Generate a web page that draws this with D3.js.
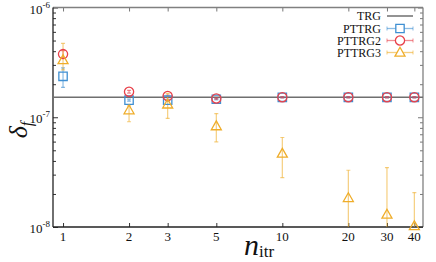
<!DOCTYPE html>
<html><head><meta charset="utf-8">
<script src="https://cdn.jsdelivr.net/npm/d3@7"></script>
<style>body{margin:0;background:#fff}svg{display:block}</style>
</head><body><svg id="c" width="436" height="262"></svg>
<script>
const nVals = [1, 2, 3, 5, 10, 20, 30, 40];
const xTickLabels = ["1", "2", "3", "5", "10", "20", "30", "40"];
const yTickExps = [-6, -7, -8];
const trgValue = 1.52e-7;
const pttrg   = [2.36e-7, 1.43e-7, 1.43e-7, 1.46e-7, 1.52e-7, 1.52e-7, 1.52e-7, 1.52e-7];
const pttrgLo = [1.87e-7, 1.40e-7, 1.40e-7, 1.44e-7, 1.50e-7, 1.50e-7, 1.50e-7, 1.50e-7];
const pttrgHi = [2.82e-7, 1.46e-7, 1.46e-7, 1.48e-7, 1.54e-7, 1.54e-7, 1.54e-7, 1.54e-7];
const pttrg2   = [3.76e-7, 1.71e-7, 1.56e-7, 1.48e-7, 1.52e-7, 1.52e-7, 1.52e-7, 1.52e-7];
const pttrg2Lo = [3.50e-7, 1.66e-7, 1.53e-7, 1.46e-7, 1.50e-7, 1.50e-7, 1.50e-7, 1.50e-7];
const pttrg2Hi = [4.05e-7, 1.76e-7, 1.59e-7, 1.50e-7, 1.54e-7, 1.54e-7, 1.54e-7, 1.54e-7];
const pttrg3   = [3.32e-7, 1.16e-7, 1.31e-7, 8.3e-8, 4.67e-8, 1.84e-8, 1.30e-8, 1.02e-8];
const pttrg3Lo = [2.70e-7, 9.1e-8, 9.75e-8, 5.97e-8, 2.82e-8, 5e-9, 5e-9, 5e-9];
const pttrg3Hi = [4.71e-7, 1.27e-7, 1.65e-7, 1.08e-7, 6.54e-8, 3.29e-8, 3.48e-8, 2.06e-8];
const seriesNames = ["TRG", "PTTRG", "PTTRG2", "PTTRG3"];

const FONT = "Liberation Serif";
const svg = d3.select("#c");
const L = 53, R = 423, T = 7.5, B = 227;
const x = d3.scaleLog().domain([0.9, 43.8]).range([L, R]);
const y = d3.scaleLog().domain([1e-8, 1e-6]).range([B, T]);

svg.append("defs").append("clipPath").attr("id","clip")
  .append("rect").attr("x",L).attr("y",T).attr("width",R-L).attr("height",B-T);

const colors = {PTTRG:"#3f8fd2", PTTRG2:"#e8414a", PTTRG3:"#efad2a"};

const minor = [];
for (let e=-8;e<-6;e++) for (let m=2;m<=9;m++) minor.push(m*Math.pow(10,e));
function tickGroup(axis, tx, ty, color){
  const g = svg.append("g").attr("transform",`translate(${tx},${ty})`).call(axis);
  g.select(".domain").remove(); g.selectAll("line").attr("stroke",color);
  g.selectAll("text").remove();
}
const majors = yTickExps.map(e=>Math.pow(10,e));
tickGroup(d3.axisRight(y).tickValues(minor).tickSize(3).tickFormat(""), L, 0, "#333");
tickGroup(d3.axisRight(y).tickValues(majors).tickSize(5).tickFormat(""), L, 0, "#333");
tickGroup(d3.axisLeft(y).tickValues(minor).tickSize(3).tickFormat(""), R, 0, "#777");
tickGroup(d3.axisLeft(y).tickValues(majors).tickSize(5).tickFormat(""), R, 0, "#777");
tickGroup(d3.axisTop(x).tickValues(nVals).tickSize(4).tickFormat(""), 0, B, "#333");
tickGroup(d3.axisBottom(x).tickValues(nVals).tickSize(4).tickFormat(""), 0, T, "#777");

// borders
svg.append("line").attr("x1",L).attr("x2",R).attr("y1",T).attr("y2",T).attr("stroke","#808080").attr("stroke-width",1.6);
svg.append("line").attr("x1",R).attr("x2",R).attr("y1",T).attr("y2",B).attr("stroke","#808080").attr("stroke-width",1.3);
svg.append("line").attr("x1",L).attr("x2",L).attr("y1",T).attr("y2",B).attr("stroke","#222").attr("stroke-width",1.3);
svg.append("line").attr("x1",L).attr("x2",R).attr("y1",B).attr("y2",B).attr("stroke","#222").attr("stroke-width",1.3);

// x tick labels
svg.append("g").selectAll("text").data(nVals).join("text")
  .attr("x",d=>x(d)).attr("y",B+14).attr("text-anchor","middle")
  .attr("font-family",FONT).attr("font-size",13).attr("fill","#111")
  .text((d,i)=>xTickLabels[i]);
// y tick labels
yTickExps.forEach(e=>{
  const yy = y(Math.pow(10,e));
  const t = svg.append("text").attr("x",L-3).attr("y",yy+6).attr("text-anchor","end")
    .attr("font-family",FONT).attr("font-size",13).attr("fill","#111");
  t.append("tspan").text("10");
  t.append("tspan").attr("font-size",9).attr("dy",-6).text(String(e));
});

// TRG line
svg.append("line").attr("x1",L).attr("x2",R).attr("y1",y(trgValue)).attr("y2",y(trgValue))
  .attr("stroke","#6f6f6f").attr("stroke-width",1.5);

function errorBars(vals, lo, hi, color){
  const g = svg.append("g").attr("clip-path","url(#clip)").attr("stroke",color).attr("stroke-opacity",0.6).attr("stroke-width",1.2);
  vals.forEach((v,i)=>{
    const xx = x(nVals[i]);
    g.append("line").attr("x1",xx).attr("x2",xx).attr("y1",y(lo[i])).attr("y2",y(hi[i]));
    g.append("line").attr("x1",xx-2).attr("x2",xx+2).attr("y1",y(lo[i])).attr("y2",y(lo[i]));
    g.append("line").attr("x1",xx-2).attr("x2",xx+2).attr("y1",y(hi[i])).attr("y2",y(hi[i]));
  });
}
const sqPath = d3.symbol(d3.symbolSquare, 70)();
const triPath = "M0,-5.2L5,3.6L-5,3.6Z";
function addMarker(g, kind){
  if (kind==="sq") return g.append("path").attr("d",sqPath);
  if (kind==="ci") return g.append("circle").attr("r",4.6);
  return g.append("path").attr("d",triPath);
}
function markers(vals, color, kind){
  const g = svg.append("g");
  vals.forEach((v,i)=>{
    addMarker(g, kind).attr("transform",`translate(${x(nVals[i])},${y(v)})`)
      .attr("fill","none").attr("stroke",color).attr("stroke-width",1.3);
  });
}
errorBars(pttrg, pttrgLo, pttrgHi, colors.PTTRG);
errorBars(pttrg2, pttrg2Lo, pttrg2Hi, colors.PTTRG2);
errorBars(pttrg3, pttrg3Lo, pttrg3Hi, colors.PTTRG3);
markers(pttrg, colors.PTTRG, "sq");
markers(pttrg2, colors.PTTRG2, "ci");
markers(pttrg3, colors.PTTRG3, "tri");

// legend
const legY = [16, 28.5, 40.5, 52.5];
const kinds = [null, "sq", "ci", "tri"];
seriesNames.forEach((name,i)=>{
  const yy = legY[i];
  svg.append("text").attr("x",381).attr("y",yy+4).attr("text-anchor","end")
    .attr("font-family",FONT).attr("font-size",12).attr("fill","#111").text(name);
  if (i===0){
    svg.append("line").attr("x1",387).attr("x2",413).attr("y1",yy).attr("y2",yy).attr("stroke","#6f6f6f").attr("stroke-width",1.5);
  } else {
    const c = colors[name];
    svg.append("line").attr("x1",387).attr("x2",413).attr("y1",yy).attr("y2",yy).attr("stroke",c).attr("stroke-opacity",0.6).attr("stroke-width",1.3);
    [387,413].forEach(xx=>svg.append("line").attr("x1",xx).attr("x2",xx).attr("y1",yy-2).attr("y2",yy+2).attr("stroke",c).attr("stroke-opacity",0.6));
    addMarker(svg, kinds[i]).attr("transform",`translate(400,${yy})`).attr("fill","#fff").attr("stroke",c).attr("stroke-width",1.3);
  }
});

// axis labels
const yl = svg.append("text").attr("transform","translate(27,130) rotate(-90)").attr("text-anchor","middle")
  .attr("font-family",FONT).attr("font-size",26).attr("fill","#111");
yl.append("tspan").attr("font-style","italic").text("δ");
yl.append("tspan").attr("font-style","italic").attr("font-size",16).attr("dy",5).text("f");
const xl = svg.append("text").attr("x",259).attr("y",255).attr("text-anchor","middle")
  .attr("font-family",FONT).attr("fill","#111");
xl.append("tspan").attr("font-style","italic").attr("font-size",30).text("n");
xl.append("tspan").attr("font-size",17).attr("dy",2).text("itr");
</script></body></html>
